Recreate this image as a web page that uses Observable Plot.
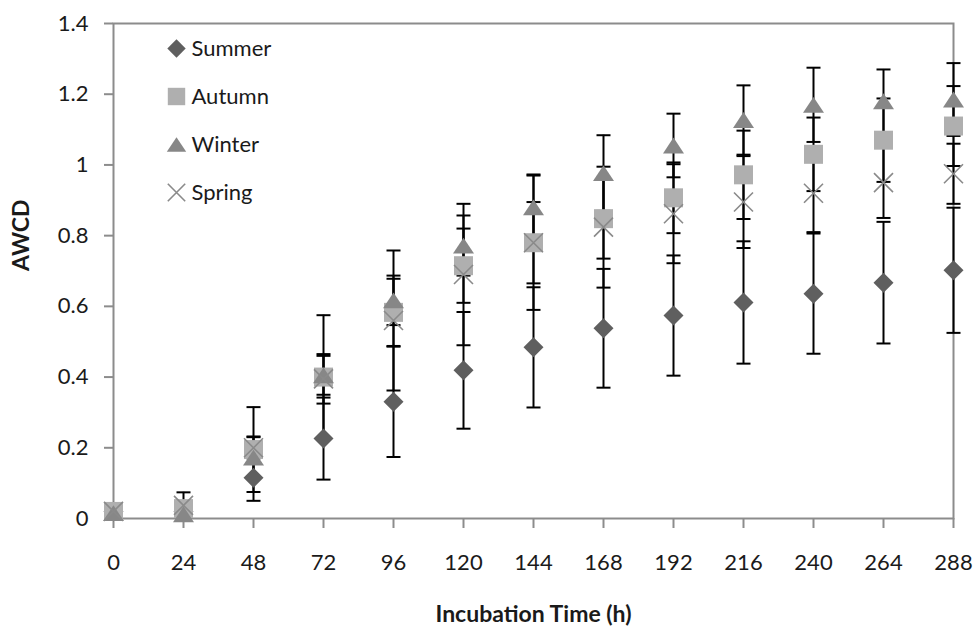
<!DOCTYPE html>
<html>
<head>
<meta charset="utf-8">
<script src="https://cdn.jsdelivr.net/npm/d3@7"></script>
<script src="https://cdn.jsdelivr.net/npm/@observablehq/plot@0.6"></script>
<style>
  body { margin: 0; background: #fff; }
  #chart svg { display: block; }
</style>
</head>
<body>
<div id="chart"></div>
<script>
// Incubation times (h) and axis ticks
const hours = [0, 24, 48, 72, 96, 120, 144, 168, 192, 216, 240, 264, 288];
const xTicks = [0, 24, 48, 72, 96, 120, 144, 168, 192, 216, 240, 264, 288];
const yTicks = [0, 0.2, 0.4, 0.6, 0.8, 1, 1.2, 1.4];

const seriesNames = ["Summer", "Autumn", "Winter", "Spring"];

// Mean AWCD per season and its standard deviation
const summerMean = [0.02, 0.02, 0.115, 0.226, 0.33, 0.419, 0.484, 0.538, 0.574, 0.611, 0.636, 0.667, 0.702];
const summerSD   = [0.005, 0.01, 0.065, 0.116, 0.156, 0.165, 0.17, 0.168, 0.17, 0.173, 0.17, 0.172, 0.177];

const autumnMean = [0.02, 0.028, 0.195, 0.40, 0.583, 0.715, 0.78, 0.848, 0.907, 0.972, 1.03, 1.07, 1.11];
const autumnSD   = [0.005, 0.01, 0.12, 0.175, 0.095, 0.105, 0.115, 0.113, 0.10, 0.125, 0.104, 0.118, 0.113];

const winterMean = [0.015, 0.012, 0.172, 0.405, 0.617, 0.772, 0.88, 0.977, 1.055, 1.127, 1.17, 1.18, 1.185];
const winterSD   = [0.005, 0.008, 0.06, 0.055, 0.07, 0.085, 0.093, 0.107, 0.09, 0.098, 0.105, 0.09, 0.103];

const springMean = [0.02, 0.037, 0.2, 0.395, 0.56, 0.69, 0.78, 0.824, 0.862, 0.895, 0.92, 0.95, 0.975];
const springSD   = [0.005, 0.037, 0.03, 0.07, 0.198, 0.2, 0.19, 0.171, 0.14, 0.13, 0.11, 0.1, 0.085];

const seriesColors = ["#5f5f5f", "#afafaf", "#878787", "#8a8a8a"];

// Marker shapes (size = π r², so r is recovered as the half-extent)
const half = size => Math.sqrt(size / Math.PI);
const diamondSym = {draw(ctx, size) { const r = half(size); ctx.moveTo(0, -r); ctx.lineTo(r, 0); ctx.lineTo(0, r); ctx.lineTo(-r, 0); ctx.closePath(); }};
const squareSym = {draw(ctx, size) { const r = half(size); ctx.rect(-r, -r, 2 * r, 2 * r); }};
const triangleSym = {draw(ctx, size) { const r = half(size); const h = r * Math.sqrt(3) * 0.87; ctx.moveTo(0, -h / 2); ctx.lineTo(r, h / 2); ctx.lineTo(-r, h / 2); ctx.closePath(); }};
const timesSym = {draw(ctx, size) { const r = half(size); ctx.moveTo(-r, -r); ctx.lineTo(r, r); ctx.moveTo(r, -r); ctx.lineTo(-r, r); }};
const capSym = {draw(ctx, size) { const r = half(size); ctx.moveTo(-r, 0); ctx.lineTo(r, 0); }};

const means = [summerMean, autumnMean, winterMean, springMean];
const sds = [summerSD, autumnSD, winterSD, springSD];
const symbols = [diamondSym, squareSym, triangleSym, timesSym];
const radii = [10, 9.5, 10.5, 9.5];

const table = seriesNames.map((name, i) => hours.map((h, j) => ({
  series: name, hour: h, mean: means[i][j], lo: means[i][j] - sds[i][j], hi: means[i][j] + sds[i][j]
})));
const allRows = table.flat();

const gray = "#8c8c8c";
const ink = "#1a1a1a";

function seriesDots(i) {
  const filled = i !== 3;
  return Plot.dot(table[i], {
    x: "hour", y: "mean", symbol: symbols[i], r: radii[i],
    fill: filled ? seriesColors[i] : "none",
    stroke: filled ? "none" : seriesColors[i],
    strokeWidth: filled ? 0 : 1.6
  });
}

function legendEntry(i) {
  const filled = i !== 3;
  return [
    Plot.dot([seriesNames[i]], {
      frameAnchor: "top-left", dx: 63, dy: 25 + 48 * i,
      symbol: symbols[i], r: radii[i] - 0.8,
      fill: filled ? seriesColors[i] : "none",
      stroke: filled ? "none" : seriesColors[i],
      strokeWidth: filled ? 0 : 1.6
    }),
    Plot.text([seriesNames[i]], {
      frameAnchor: "top-left", dx: 78, dy: 25 + 48 * i,
      text: d => d, textAnchor: "start", lineAnchor: "middle", fontSize: 22, fill: ink
    })
  ];
}

const chart = Plot.plot({
  width: 978,
  height: 626,
  marginLeft: 113,
  marginRight: 25,
  marginTop: 23,
  marginBottom: 108,
  style: {fontFamily: "Lato, 'Open Sans', sans-serif", fontSize: "22px", color: ink, background: "#fff"},
  x: {domain: [0, 288], label: null},
  y: {domain: [0, 1.4], label: null},
  marks: [
    Plot.frame({stroke: gray, strokeWidth: 2}),
    Plot.axisX({ticks: xTicks, tickSize: 10, tickPadding: 26, tickFormat: d => String(d), stroke: gray, strokeWidth: 2, fill: ink, fontSize: 22, label: null}),
    Plot.axisY({ticks: yTicks, tickSize: 9, tickPadding: 16, tickFormat: d => String(d), stroke: gray, strokeWidth: 2, fill: ink, fontSize: 22, label: null}),
    // error bars: stems then caps
    Plot.ruleX(allRows, {x: "hour", y1: "lo", y2: "hi", stroke: "#000", strokeWidth: 2}),
    Plot.dot(allRows, {x: "hour", y: "lo", symbol: capSym, r: 7, stroke: "#000", strokeWidth: 2}),
    Plot.dot(allRows, {x: "hour", y: "hi", symbol: capSym, r: 7, stroke: "#000", strokeWidth: 2}),
    // series markers
    seriesDots(0), seriesDots(1), seriesDots(2), seriesDots(3),
    // legend
    ...legendEntry(0), ...legendEntry(1), ...legendEntry(2), ...legendEntry(3),
    // axis titles
    Plot.text(["Incubation Time (h)"], {frameAnchor: "bottom", dy: 96, lineAnchor: "middle", text: d => d, fontWeight: "bold", fontSize: 23, fill: ink}),
    Plot.text(["AWCD"], {frameAnchor: "left", dx: -91.5, rotate: -90, lineAnchor: "middle", text: d => d, fontWeight: "bold", fontSize: 23, fill: ink})
  ]
});

document.getElementById("chart").appendChild(chart);
</script>
</body>
</html>
